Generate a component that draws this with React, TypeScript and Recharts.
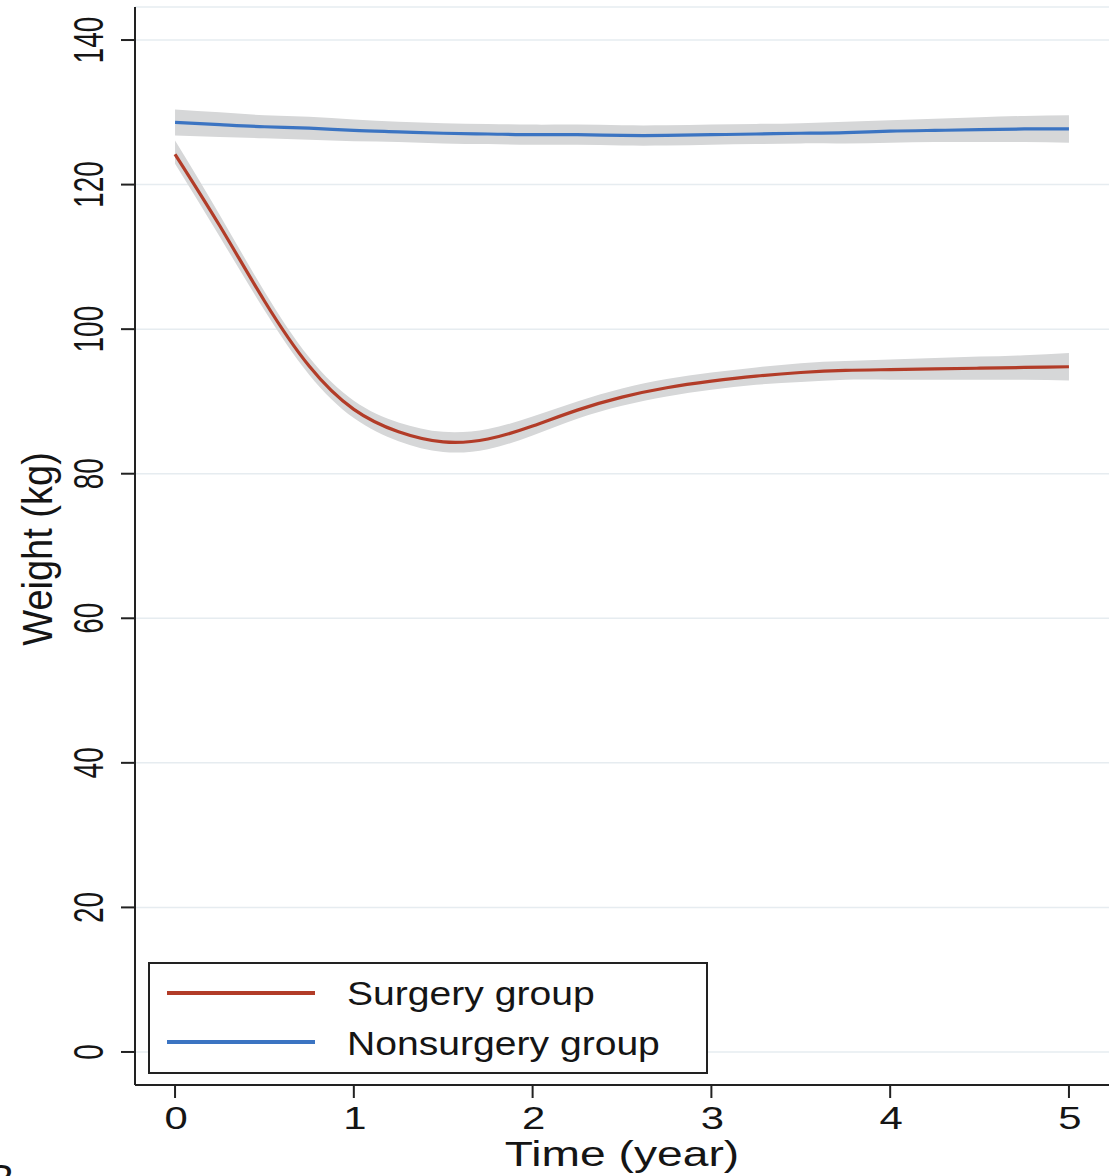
import { ComposedChart, Line, Area, XAxis, YAxis, CartesianGrid, Legend } from 'recharts'

const years = [0, 0.25, 0.5, 0.75, 1, 1.25, 1.5, 1.75, 2, 2.25, 2.5, 2.75, 3, 3.25, 3.5, 3.75, 4, 4.25, 4.5, 4.75, 5]

const surgery = [124.2, 114.3, 103.9, 94.9, 88.9, 85.8, 84.4, 84.8, 86.6, 88.8, 90.6, 91.9, 92.8, 93.5, 94.0, 94.3, 94.4, 94.5, 94.6, 94.7, 94.8]
const surgeryLow = [122.9, 112.8, 102.6, 93.7, 87.7, 84.5, 83.0, 83.4, 85.3, 87.6, 89.4, 90.7, 91.6, 92.3, 92.7, 93.0, 93.0, 93.0, 93.0, 93.0, 92.9]
const surgeryHigh = [126.1, 115.8, 105.2, 96.1, 90.1, 87.1, 85.8, 86.2, 87.9, 90.0, 91.8, 93.1, 94.0, 94.7, 95.3, 95.6, 95.8, 96.0, 96.2, 96.4, 96.7]

const nonsurgery = [128.6, 128.3, 128.0, 127.8, 127.5, 127.3, 127.1, 127.0, 126.9, 126.9, 126.8, 126.8, 126.9, 127.0, 127.1, 127.2, 127.4, 127.5, 127.6, 127.7, 127.7]
const nonsurgeryLow = [126.8, 126.6, 126.4, 126.2, 126.0, 125.9, 125.7, 125.6, 125.5, 125.5, 125.4, 125.4, 125.5, 125.6, 125.7, 125.7, 125.8, 125.9, 125.9, 125.9, 125.8]
const nonsurgeryHigh = [130.4, 130.0, 129.6, 129.4, 129.0, 128.7, 128.5, 128.4, 128.3, 128.3, 128.2, 128.2, 128.3, 128.4, 128.5, 128.7, 128.9, 129.1, 129.3, 129.5, 129.6]

const yTicks = [0, 20, 40, 60, 80, 100, 120, 140]
const xTicks = [0, 1, 2, 3, 4, 5]

const seriesNames = ['Surgery group', 'Nonsurgery group']
const seriesColors = ['#b23c28', '#3b74c2']

const data = years.map((t, i) => ({
  t,
  surgery: surgery[i],
  surgeryBand: [surgeryLow[i], surgeryHigh[i]],
  nonsurgery: nonsurgery[i],
  nonsurgeryBand: [nonsurgeryLow[i], nonsurgeryHigh[i]],
}))

const FONT = '"Liberation Sans", Arial, Helvetica, sans-serif'
const INK = '#151515'
const AXIS = '#222'

// the source image is stretched sideways, so texts get scaled
function StretchText({ x, y, sx = 1, sy = 1, rotate = 0, size, anchor = 'middle', children }: any) {
  return (
    <text
      transform={`translate(${x},${y}) rotate(${rotate}) scale(${sx},${sy})`}
      textAnchor={anchor}
      fontSize={size}
      fontFamily={FONT}
      fill={INK}
    >
      {children}
    </text>
  )
}

function YTick({ x, y, payload }: any) {
  return (
    <g>
      <StretchText x={x} y={y} rotate={-90} sy={1.5} size={28}>
        {payload.value}
      </StretchText>
    </g>
  )
}

function XTick({ x, y, payload }: any) {
  return (
    <g>
      <StretchText x={x + 1} y={y + 31} sx={1.35} size={31}>
        {payload.value}
      </StretchText>
    </g>
  )
}

function XLabel({ viewBox }: any) {
  const cx = viewBox.x + viewBox.width / 2
  return (
    <g>
      <StretchText x={cx} y={1166} sx={1.32} size={35}>
        Time (year)
      </StretchText>
      <StretchText x={-12} y={1193} size={40} anchor="start">
        B
      </StretchText>
    </g>
  )
}

function YLabel({ viewBox }: any) {
  const cy = viewBox.y + viewBox.height / 2
  return (
    <StretchText x={52} y={cy + 3} rotate={-90} sy={1.1} size={38}>
      Weight (kg)
    </StretchText>
  )
}

function LegendBox() {
  return (
    <svg width={560} height={112} style={{ display: 'block' }}>
      <rect x={1} y={1} width={558} height={110} fill="#fff" stroke={AXIS} strokeWidth={2} />
      {seriesNames.map((name, i) => (
        <g key={name}>
          <line x1={19} x2={167} y1={31 + i * 49} y2={31 + i * 49} stroke={seriesColors[i]} strokeWidth={4} />
          <StretchText x={199} y={43 + i * 50} sx={1.15} size={34} anchor="start">
            {name}
          </StretchText>
        </g>
      ))}
    </svg>
  )
}

export default function App() {
  return (
    <div style={{ position: 'absolute', left: 0, top: 0, background: '#fff' }}>
      <ComposedChart
        width={1117}
        height={1176}
        data={data}
        margin={{ top: 7, right: 8, bottom: 0, left: 0 }}
      >
        <CartesianGrid horizontal vertical={false} stroke="#e6ecf0" strokeWidth={1.5} />
        <XAxis
          dataKey="t"
          type="number"
          domain={[-0.224, 5.224]}
          ticks={xTicks}
          allowDataOverflow
          height={91}
          tickSize={13}
          tickMargin={0}
          axisLine={{ stroke: AXIS, strokeWidth: 2 }}
          tickLine={{ stroke: AXIS, strokeWidth: 2 }}
          tick={<XTick />}
          label={{ content: XLabel }}
        />
        <YAxis
          type="number"
          domain={[-4.57, 144.57]}
          ticks={yTicks}
          allowDataOverflow
          width={135}
          tickSize={14}
          tickMargin={18}
          axisLine={{ stroke: AXIS, strokeWidth: 2 }}
          tickLine={{ stroke: AXIS, strokeWidth: 2 }}
          tick={<YTick />}
          label={{ content: YLabel }}
        />
        <Area
          dataKey="nonsurgeryBand"
          type="natural"
          fill="#d6d7d8"
          fillOpacity={1}
          stroke="none"
          isAnimationActive={false}
          legendType="none"
        />
        <Area
          dataKey="surgeryBand"
          type="natural"
          fill="#d6d7d8"
          fillOpacity={1}
          stroke="none"
          isAnimationActive={false}
          legendType="none"
        />
        <Line
          dataKey="nonsurgery"
          name={seriesNames[1]}
          type="natural"
          stroke={seriesColors[1]}
          strokeWidth={3.2}
          dot={false}
          activeDot={false}
          isAnimationActive={false}
        />
        <Line
          dataKey="surgery"
          name={seriesNames[0]}
          type="natural"
          stroke={seriesColors[0]}
          strokeWidth={3.2}
          dot={false}
          activeDot={false}
          isAnimationActive={false}
        />
        <Legend
          layout="vertical"
          align="center"
          verticalAlign="middle"
          content={LegendBox}
          wrapperStyle={{ position: 'absolute', left: 148, top: 962, width: 560, height: 112 }}
        />
      </ComposedChart>
    </div>
  )
}
